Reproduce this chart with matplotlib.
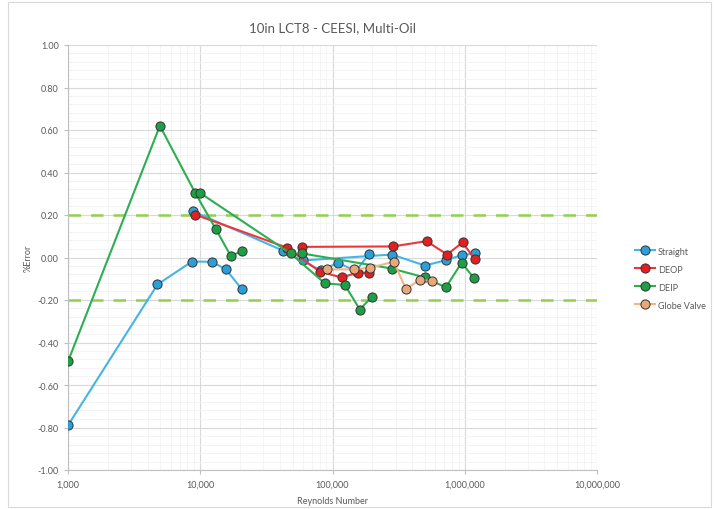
import numpy as np
import matplotlib
matplotlib.use("Agg")
import matplotlib.pyplot as plt
from matplotlib.patches import Rectangle
from matplotlib.ticker import FixedLocator, NullFormatter

plt.rcParams['font.family'] = ['Lato', 'DejaVu Sans']

nan = np.nan

# Reynolds number / % error per meter configuration (NaN separates test runs)
straight_re = [1000, 4750, 8650, 12200, 15600, 20600, nan,
               8770, 42400, 81700, 110400, 150000, 188500, nan,
               59700, 281000, 499000, 716000, 946000, 1191000]
straight_err = [-0.79, -0.127, -0.019, -0.020, -0.055, -0.149, nan,
                0.218, 0.032, -0.061, -0.025, -0.064, 0.016, nan,
                -0.014, 0.014, -0.038, -0.013, 0.011, 0.019]

deop_re = [9120, 45000, 80400, 117300, 155000, 188500, nan,
           59000, 286000, 514000, 736000, 962000, 1191000]
deop_err = [0.202, 0.047, -0.067, -0.094, -0.071, -0.072, nan,
            0.050, 0.052, 0.077, 0.014, 0.071, -0.008]

deip_re = [1000, 4950, 9160, 13150, 17070, 20650, nan,
           9950, 48200, 87700, 124000, 161000, 197500, nan,
           59000, 281000, 499000, 719000, 946000, 1172000]
deip_err = [-0.489, 0.620, 0.304, 0.132, 0.006, 0.031, nan,
            0.304, 0.019, -0.122, -0.129, -0.245, -0.186, nan,
            0.019, -0.052, -0.094, -0.141, -0.025, -0.096]

globe_re = [90700, 145000, 192000, 291000, 359000, 458000, 564000]
globe_err = [-0.056, -0.056, -0.048, -0.020, -0.149, -0.104, -0.112]

limit_band = [0.2, -0.2]

x_ticks = [1e3, 1e4, 1e5, 1e6, 1e7]
x_tick_labels = ["1,000", "10,000", "100,000", "1,000,000", "10,000,000"]
y_ticks = [-1.0, -0.8, -0.6, -0.4, -0.2, 0.0, 0.2, 0.4, 0.6, 0.8, 1.0]
y_tick_labels = ["-1.00", "-0.80", "-0.60", "-0.40", "-0.20", "0.00",
                 "0.20", "0.40", "0.60", "0.80", "1.00"]

W, H = 719, 510
fig = plt.figure(figsize=(W / 100, H / 100), dpi=100)
ax = fig.add_axes([68 / W, 1 - 471 / H, (597 - 68) / W, (471 - 46) / H])

text_col = "#595959"

# chart-area border
fig.patches.append(Rectangle((8 / W, 2 / H), (711 - 8) / W, (508 - 3) / H,
                             transform=fig.transFigure, fill=False,
                             edgecolor="#D9D9D9", linewidth=0.8))

ax.set_xscale("log")
ax.set_xlim(1e3, 1e7)
ax.set_ylim(-1.0, 1.0)

ax.set_xticks(x_ticks)
ax.set_xticklabels(x_tick_labels)
minor_x = [m * 10 ** e for e in range(3, 7) for m in range(2, 10)]
ax.xaxis.set_minor_locator(FixedLocator(minor_x))
ax.xaxis.set_minor_formatter(NullFormatter())

ax.set_yticks(y_ticks)
ax.set_yticklabels(y_tick_labels)
ax.yaxis.set_minor_locator(FixedLocator(np.arange(-1.0, 1.0001, 0.04)))

ax.grid(True, which="major", color="#D9D9D9", linewidth=0.8)
ax.grid(True, which="minor", color="#F2F2F2", linewidth=0.6)
ax.set_axisbelow(True)

for side in ["top", "right"]:
    ax.spines[side].set_visible(False)
for side in ["left", "bottom"]:
    ax.spines[side].set_color("#BFBFBF")
    ax.spines[side].set_linewidth(0.8)

ax.tick_params(which="major", length=3, color="#BFBFBF", labelsize=6.5,
               labelcolor=text_col, width=0.8)
ax.tick_params(which="minor", length=0)
ax.tick_params(axis="x", pad=4)

# +/- 0.2 % limits
for lim in limit_band:
    ax.axhline(lim, color="#92D050", linewidth=1.8, dashes=(5, 4), zorder=1)

series = [
    (straight_re, straight_err, "Straight", "#45B4E8", "#2A9FD8"),
    (deop_re, deop_err, "DEOP", "#F0353A", "#E32020"),
    (deip_re, deip_err, "DEIP", "#2EAE52", "#1E9E45"),
    (globe_re, globe_err, "Globe Valve", "#F5B486", "#E8A878"),
]
for xs, ys, name, lc, mc in series:
    ax.plot(xs, ys, color=lc, linewidth=1.5, marker="o", markersize=6.6,
            markerfacecolor=mc, markeredgecolor="#333333",
            markeredgewidth=0.7, label=name, zorder=3)

ax.set_title("10in LCT8 - CEESI, Multi-Oil", fontsize=9.5, color=text_col,
             pad=10)
ax.set_xlabel("Reynolds Number", fontsize=6.5, color=text_col, labelpad=5)
ax.set_ylabel("%Error", fontsize=6.5, color=text_col, labelpad=4)

fig.legend(loc="upper left", bbox_to_anchor=(630 / W, 1 - 243 / H),
           frameon=False, fontsize=6.5, labelcolor=text_col,
           handlelength=2.3, handletextpad=0.3, labelspacing=1.0,
           borderpad=0)

fig.savefig("out.png", dpi=100)
